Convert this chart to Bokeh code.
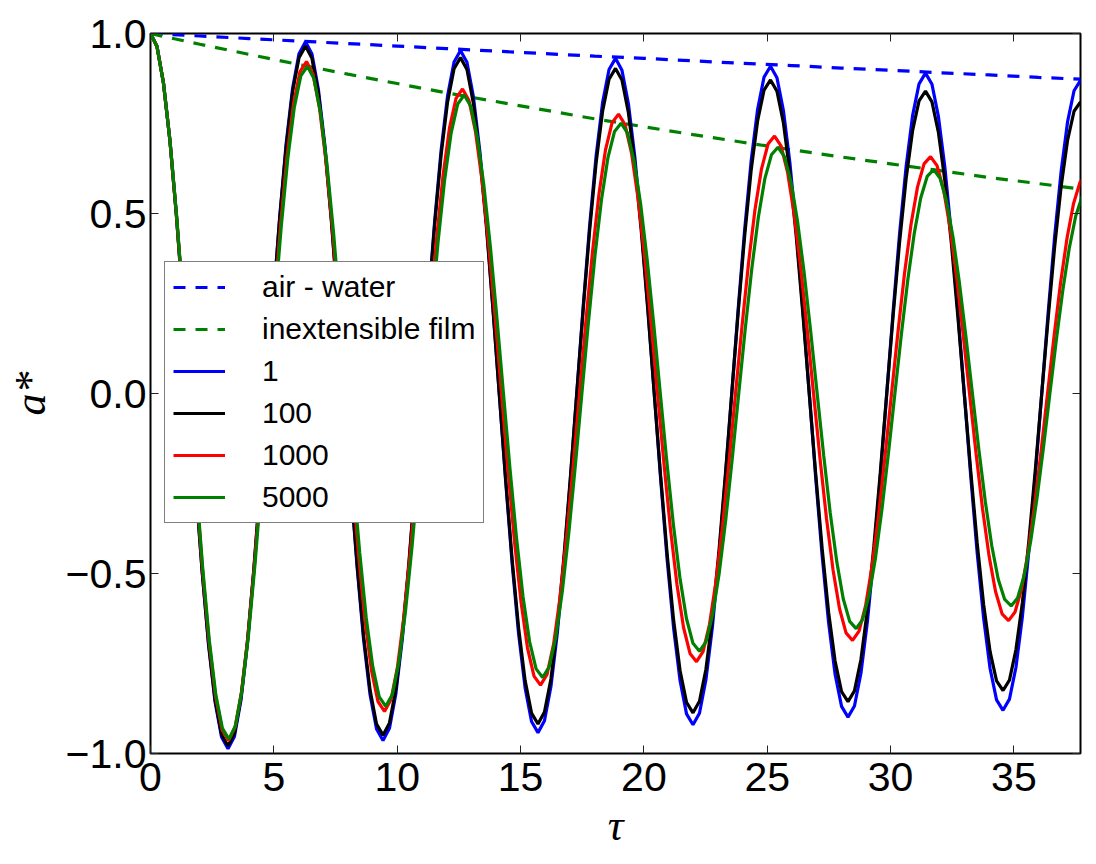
from bokeh.plotting import figure
from bokeh.models import Range1d, LinearAxis, FixedTicker, Legend, LegendItem
from bokeh.embed import file_html
from bokeh.resources import INLINE

# time samples shared by the "1" and "100" runs
tau = [0.000, 0.262, 0.524, 0.785, 1.047, 1.309, 1.571, 1.833, 2.094, 2.356, 2.618, 2.880, 3.142,
       3.403, 3.665, 3.927, 4.189, 4.451, 4.712, 4.974, 5.236, 5.498, 5.760, 6.021, 6.283,
       6.545, 6.807, 7.069, 7.330, 7.592, 7.854, 8.116, 8.378, 8.639, 8.901, 9.163, 9.425,
       9.687, 9.948, 10.210, 10.472, 10.734, 10.996, 11.257, 11.519, 11.781, 12.043, 12.305, 12.566,
       12.828, 13.090, 13.352, 13.614, 13.875, 14.137, 14.399, 14.661, 14.923, 15.184, 15.446, 15.708,
       15.970, 16.232, 16.493, 16.755, 17.017, 17.279, 17.541, 17.802, 18.064, 18.326, 18.588, 18.850,
       19.111, 19.373, 19.635, 19.897, 20.159, 20.420, 20.682, 20.944, 21.206, 21.468, 21.729, 21.991,
       22.253, 22.515, 22.777, 23.038, 23.300, 23.562, 23.824, 24.086, 24.347, 24.609, 24.871, 25.133,
       25.394, 25.656, 25.918, 26.180, 26.442, 26.704, 26.965, 27.227, 27.489, 27.751, 28.013, 28.274,
       28.536, 28.798, 29.060, 29.322, 29.583, 29.845, 30.107, 30.369, 30.631, 30.892, 31.154, 31.416,
       31.678, 31.940, 32.201, 32.463, 32.725, 32.987, 33.249, 33.510, 33.772, 34.034, 34.296, 34.558,
       34.819, 35.081, 35.343, 35.605, 35.867, 36.128, 36.390, 36.652, 36.914, 37.176, 37.437, 37.699]

# time samples of the "1000" run
tau_1000 = [0.000, 0.264, 0.527, 0.790, 1.054, 1.318, 1.581, 1.845, 2.108, 2.371, 2.635, 2.899, 3.162,
            3.425, 3.689, 3.953, 4.216, 4.480, 4.743, 5.006, 5.270, 5.534, 5.797, 6.060, 6.324,
            6.588, 6.851, 7.115, 7.378, 7.641, 7.905, 8.169, 8.433, 8.695, 8.959, 9.223, 9.486,
            9.750, 10.013, 10.276, 10.540, 10.804, 11.068, 11.330, 11.594, 11.858, 12.121, 12.385, 12.648,
            12.911, 13.175, 13.439, 13.703, 13.965, 14.229, 14.493, 14.756, 15.020, 15.283, 15.546, 15.810,
            16.074, 16.338, 16.600, 16.864, 17.128, 17.391, 17.655, 17.918, 18.181, 18.445, 18.709, 18.973,
            19.235, 19.499, 19.763, 20.026, 20.290, 20.553, 20.816, 21.080, 21.344, 21.608, 21.870, 22.134,
            22.398, 22.661, 22.925, 23.188, 23.452, 23.715, 23.979, 24.243, 24.505, 24.769, 25.033, 25.296,
            25.559, 25.823, 26.087, 26.350, 26.614, 26.878, 27.140, 27.404, 27.668, 27.931, 28.195, 28.458,
            28.722, 28.985, 29.249, 29.513, 29.775, 30.039, 30.303, 30.566, 30.830, 31.093, 31.357, 31.620,
            31.884, 32.148, 32.410, 32.674, 32.938, 33.201, 33.465, 33.728, 33.992, 34.255, 34.519, 34.783,
            35.045, 35.309, 35.573, 35.836, 36.100, 36.363, 36.627, 36.890, 37.154, 37.418, 37.680, 37.944]

# time samples of the "5000" run
tau_5000 = [0.000, 0.265, 0.530, 0.794, 1.060, 1.325, 1.590, 1.855, 2.119, 2.384, 2.649, 2.915, 3.180,
            3.444, 3.709, 3.974, 4.239, 4.504, 4.769, 5.034, 5.299, 5.564, 5.829, 6.093, 6.358,
            6.624, 6.889, 7.154, 7.418, 7.683, 7.948, 8.213, 8.479, 8.743, 9.008, 9.273, 9.538,
            9.803, 10.067, 10.333, 10.598, 10.863, 11.128, 11.392, 11.657, 11.922, 12.188, 12.453, 12.717,
            12.982, 13.247, 13.512, 13.777, 14.042, 14.307, 14.572, 14.837, 15.102, 15.366, 15.631, 15.897,
            16.162, 16.427, 16.691, 16.956, 17.221, 17.486, 17.752, 18.016, 18.281, 18.546, 18.811, 19.076,
            19.340, 19.606, 19.871, 20.136, 20.401, 20.665, 20.930, 21.195, 21.461, 21.726, 21.990, 22.255,
            22.520, 22.785, 23.050, 23.315, 23.580, 23.845, 24.110, 24.375, 24.639, 24.904, 25.170, 25.435,
            25.699, 25.964, 26.229, 26.494, 26.759, 27.024, 27.289, 27.554, 27.819, 28.081, 28.343, 28.604,
            28.866, 29.128, 29.390, 29.652, 29.913, 30.175, 30.437, 30.699, 30.961, 31.222, 31.484, 31.746,
            32.008, 32.270, 32.531, 32.793, 33.055, 33.317, 33.579, 33.840, 34.102, 34.364, 34.626, 34.888,
            35.149, 35.411, 35.673, 35.935, 36.197, 36.458, 36.720, 36.982, 37.244, 37.506, 37.767, 38.029]

a_1 = [1.000, 0.965, 0.864, 0.705, 0.498, 0.257, 0.000, -0.257, -0.496, -0.700, -0.857, -0.954, -0.987,
       -0.953, -0.853, -0.696, -0.492, -0.254, 0.000, 0.254, 0.490, 0.693, 0.848, 0.944, 0.977,
       0.943, 0.844, 0.689, 0.486, 0.251, 0.000, -0.251, -0.484, -0.684, -0.837, -0.932, -0.964,
       -0.930, -0.833, -0.680, -0.480, -0.248, 0.000, 0.248, 0.478, 0.676, 0.827, 0.921, 0.953,
       0.920, 0.824, 0.672, 0.475, 0.245, 0.000, -0.245, -0.473, -0.668, -0.817, -0.911, -0.942,
       -0.909, -0.814, -0.664, -0.469, -0.243, 0.000, 0.242, 0.467, 0.660, 0.808, 0.900, 0.931,
       0.898, 0.805, 0.656, 0.464, 0.240, 0.000, -0.239, -0.462, -0.652, -0.798, -0.890, -0.920,
       -0.888, -0.795, -0.649, -0.458, -0.237, 0.000, 0.236, 0.456, 0.645, 0.789, 0.879, 0.909,
       0.877, 0.786, 0.641, 0.453, 0.234, 0.000, -0.234, -0.451, -0.637, -0.780, -0.869, -0.899,
       -0.868, -0.777, -0.634, -0.448, -0.232, 0.000, 0.231, 0.447, 0.631, 0.772, 0.860, 0.890,
       0.859, 0.769, 0.628, 0.443, 0.229, 0.000, -0.229, -0.442, -0.624, -0.764, -0.851, -0.880,
       -0.849, -0.761, -0.620, -0.438, -0.227, 0.000, 0.226, 0.437, 0.617, 0.755, 0.841, 0.870]

a_100 = [1.000, 0.964, 0.863, 0.703, 0.497, 0.257, 0.000, -0.256, -0.493, -0.696, -0.851, -0.947, -0.979,
         -0.944, -0.846, -0.690, -0.487, -0.252, 0.000, 0.251, 0.485, 0.685, 0.838, 0.933, 0.965,
         0.931, 0.833, 0.680, 0.480, 0.248, 0.000, -0.247, -0.477, -0.674, -0.824, -0.918, -0.949,
         -0.915, -0.820, -0.668, -0.472, -0.244, 0.000, 0.243, 0.469, 0.663, 0.810, 0.902, 0.933,
         0.900, 0.806, 0.657, 0.464, 0.240, 0.000, -0.239, -0.462, -0.652, -0.797, -0.888, -0.918,
         -0.885, -0.793, -0.646, -0.457, -0.236, 0.000, 0.235, 0.454, 0.641, 0.784, 0.873, 0.903,
         0.871, 0.780, 0.636, 0.449, 0.232, 0.000, -0.231, -0.446, -0.630, -0.770, -0.858, -0.887,
         -0.855, -0.766, -0.624, -0.441, -0.228, 0.000, 0.227, 0.438, 0.619, 0.757, 0.843, 0.871,
         0.840, 0.752, 0.613, 0.433, 0.224, 0.000, -0.223, -0.431, -0.608, -0.743, -0.828, -0.856,
         -0.826, -0.739, -0.602, -0.425, -0.220, 0.000, 0.219, 0.423, 0.597, 0.730, 0.813, 0.840,
         0.810, 0.725, 0.591, 0.418, 0.216, 0.000, -0.215, -0.415, -0.586, -0.717, -0.798, -0.825,
         -0.796, -0.712, -0.581, -0.410, -0.212, 0.000, 0.211, 0.408, 0.575, 0.704, 0.784, 0.810]

a_1000 = [1.000, 0.963, 0.861, 0.701, 0.494, 0.255, 0.000, -0.253, -0.488, -0.688, -0.840, -0.934, -0.964,
          -0.928, -0.829, -0.674, -0.475, -0.245, 0.000, 0.243, 0.468, 0.659, 0.805, 0.894, 0.922,
          0.887, 0.793, 0.645, 0.455, 0.234, 0.000, -0.233, -0.448, -0.631, -0.770, -0.856, -0.883,
          -0.850, -0.759, -0.618, -0.435, -0.225, 0.000, 0.223, 0.429, 0.605, 0.738, 0.820, 0.846,
          0.814, 0.727, 0.592, 0.417, 0.215, 0.000, -0.214, -0.411, -0.579, -0.707, -0.785, -0.810,
          -0.780, -0.697, -0.567, -0.399, -0.206, 0.000, 0.205, 0.394, 0.555, 0.677, 0.752, 0.776,
          0.747, 0.668, 0.543, 0.383, 0.197, 0.000, -0.196, -0.378, -0.532, -0.650, -0.722, -0.745,
          -0.717, -0.641, -0.521, -0.368, -0.190, 0.000, 0.188, 0.363, 0.511, 0.624, 0.693, 0.715,
          0.688, 0.615, 0.500, 0.353, 0.182, 0.000, -0.181, -0.348, -0.490, -0.598, -0.665, -0.686,
          -0.660, -0.590, -0.480, -0.338, -0.175, 0.000, 0.173, 0.334, 0.470, 0.574, 0.638, 0.658,
          0.633, 0.566, 0.461, 0.325, 0.167, 0.000, -0.166, -0.320, -0.451, -0.550, -0.612, -0.631,
          -0.607, -0.543, -0.442, -0.311, -0.161, 0.000, 0.159, 0.307, 0.432, 0.528, 0.587, 0.605]

a_5000 = [1.000, 0.963, 0.860, 0.700, 0.493, 0.254, 0.000, -0.253, -0.487, -0.686, -0.837, -0.930, -0.960,
          -0.923, -0.824, -0.670, -0.472, -0.243, 0.000, 0.241, 0.463, 0.652, 0.795, 0.882, 0.909,
          0.875, 0.781, 0.636, 0.448, 0.231, 0.000, -0.229, -0.441, -0.622, -0.758, -0.843, -0.869,
          -0.836, -0.747, -0.607, -0.428, -0.221, 0.000, 0.219, 0.421, 0.593, 0.724, 0.804, 0.829,
          0.798, 0.712, 0.579, 0.408, 0.210, 0.000, -0.209, -0.401, -0.565, -0.689, -0.765, -0.789,
          -0.759, -0.678, -0.551, -0.388, -0.200, 0.000, 0.198, 0.382, 0.538, 0.656, 0.728, 0.751,
          0.723, 0.645, 0.525, 0.370, 0.191, 0.000, -0.189, -0.364, -0.512, -0.625, -0.694, -0.716,
          -0.689, -0.615, -0.501, -0.353, -0.182, 0.000, 0.180, 0.347, 0.489, 0.597, 0.663, 0.684,
          0.658, 0.588, 0.478, 0.337, 0.174, 0.000, -0.172, -0.332, -0.467, -0.570, -0.633, -0.653,
          -0.628, -0.561, -0.456, -0.321, -0.166, 0.000, 0.164, 0.316, 0.445, 0.543, 0.603, 0.622,
          0.598, 0.534, 0.434, 0.306, 0.158, 0.000, -0.156, -0.300, -0.423, -0.516, -0.572, -0.590,
          -0.568, -0.507, -0.413, -0.291, -0.150, 0.000, 0.149, 0.287, 0.404, 0.493, 0.548, 0.565]

# decay envelopes
env_tau = [0, 2, 4, 6, 8, 10, 12, 14, 16, 18, 20, 22, 24, 26, 28, 30, 32, 34, 36, 37.699]
env_air_water = [1.000, 0.993, 0.986, 0.979, 0.972, 0.965, 0.958, 0.951, 0.944, 0.937,
                 0.931, 0.924, 0.917, 0.911, 0.904, 0.898, 0.891, 0.885, 0.878, 0.873]
env_film = [1.000, 0.970, 0.942, 0.914, 0.887, 0.861, 0.835, 0.811, 0.787, 0.763,
            0.741, 0.719, 0.698, 0.677, 0.657, 0.638, 0.619, 0.600, 0.583, 0.568]

x_ticks = [0, 5, 10, 15, 20, 25, 30, 35]
y_ticks = [-1.0, -0.5, 0.0, 0.5, 1.0]
y_tick_labels = ["\u22121.0", "\u22120.5", "0.0", "0.5", "1.0"]

TICK_FONT = "Liberation Sans"
TICK_SIZE = "41px"

p = figure(frame_width=930, frame_height=720,
           min_border_left=150, min_border_right=16, min_border_top=33, min_border_bottom=111,
           x_range=Range1d(0, 37.699), y_range=Range1d(-1.0, 1.0),
           output_backend="svg", toolbar_location=None,
           background_fill_color="white", border_fill_color="white")

p.xgrid.grid_line_color = None
p.ygrid.grid_line_color = None
p.outline_line_color = "black"
p.outline_line_width = 2
p.outline_line_alpha = 1.0

bottom_axis = p.below[0]
left_axis = p.left[0]

# tick-only axes on the top and right edges
top_axis = LinearAxis()
right_axis = LinearAxis()
p.add_layout(top_axis, "above")
p.add_layout(right_axis, "right")

for ax, ticks in ((bottom_axis, x_ticks), (top_axis, x_ticks), (left_axis, y_ticks), (right_axis, y_ticks)):
    ax.ticker = FixedTicker(ticks=ticks)
    ax.axis_line_color = None
    ax.major_tick_in = 8
    ax.major_tick_out = 0
    ax.major_tick_line_color = "#222222"
    ax.major_tick_line_width = 1
    ax.minor_tick_line_color = None
    ax.major_label_text_font = TICK_FONT
    ax.major_label_text_font_size = TICK_SIZE
    ax.major_label_text_color = "black"

for ax in (top_axis, right_axis):
    ax.major_label_text_font_size = "1px"
    ax.major_label_text_color = None
    ax.major_label_standoff = 0

bottom_axis.major_label_standoff = 9
left_axis.major_label_standoff = 4
left_axis.major_label_overrides = {t: s for t, s in zip(y_ticks, y_tick_labels)}

bottom_axis.axis_label = "\u03c4"
left_axis.axis_label = "a*"
for ax in (bottom_axis, left_axis):
    ax.axis_label_text_font = "Liberation Serif"
    ax.axis_label_text_font_style = "italic"
    ax.axis_label_text_font_size = "44px"
    ax.axis_label_text_color = "black"
bottom_axis.axis_label_standoff = 7
left_axis.axis_label_standoff = 8

LW = 3.2
r_aw = p.line(env_tau, env_air_water, line_color="#0000ff", line_width=LW, line_dash="12 10")
r_film = p.line(env_tau, env_film, line_color="#008000", line_width=LW, line_dash="12 10")
r1 = p.line(tau, a_1, line_color="#0000ff", line_width=LW)
r100 = p.line(tau, a_100, line_color="black", line_width=LW)
r1000 = p.line(tau_1000, a_1000, line_color="#ff0000", line_width=LW)
r5000 = p.line(tau_5000, a_5000, line_color="#008000", line_width=LW)

legend = Legend(items=[
    LegendItem(label="air - water", renderers=[r_aw]),
    LegendItem(label="inextensible film", renderers=[r_film]),
    LegendItem(label="1", renderers=[r1]),
    LegendItem(label="100", renderers=[r100]),
    LegendItem(label="1000", renderers=[r1000]),
    LegendItem(label="5000", renderers=[r5000]),
], location=(14, 230))
legend.margin = 0
legend.padding = 8
legend.spacing = 8
legend.glyph_width = 52
legend.glyph_height = 34
legend.label_height = 34
legend.label_standoff = 37
legend.label_text_font = TICK_FONT
legend.label_text_font_size = "30px"
legend.label_text_color = "black"
legend.border_line_color = "black"
legend.border_line_width = 1.5
legend.background_fill_color = "white"
legend.background_fill_alpha = 1.0
p.add_layout(legend)

open("out.html", "w").write(file_html(p, INLINE))
